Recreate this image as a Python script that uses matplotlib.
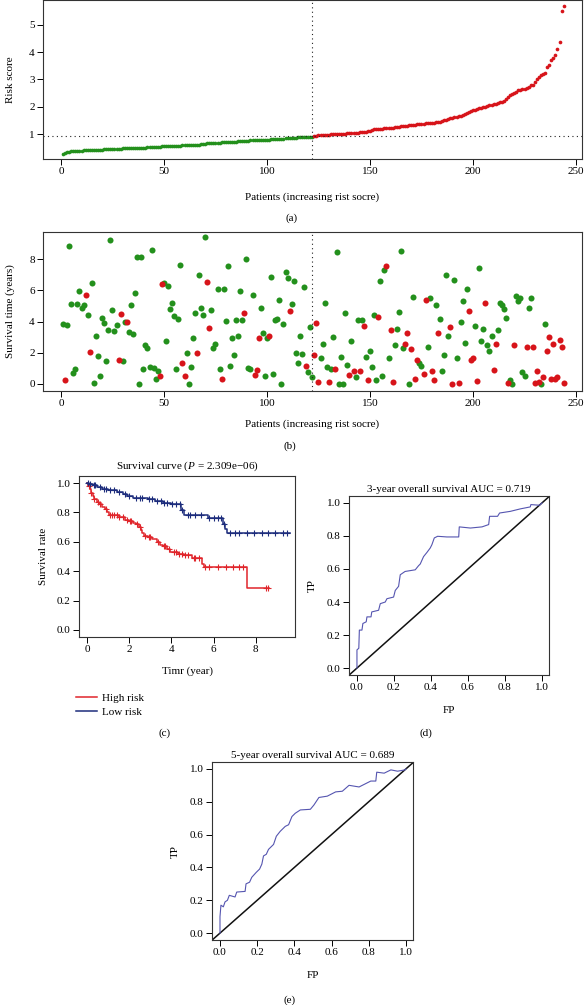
import numpy as np
import matplotlib
matplotlib.use("Agg")
import matplotlib.pyplot as plt
from matplotlib.lines import Line2D

plt.rcParams['font.family'] = ['Liberation Serif', 'DejaVu Serif']
plt.rcParams['font.size'] = 8
plt.rcParams['mathtext.fontset'] = 'custom'
plt.rcParams['mathtext.rm'] = 'Liberation Serif'
plt.rcParams['mathtext.it'] = 'Liberation Serif:italic'

# ---- data -------------------------------------------------------------
risk_score = [
    0.29, 0.31, 0.33, 0.36, 0.38, 0.39, 0.39, 0.40, 0.40, 0.40,
    0.41, 0.41, 0.41, 0.42, 0.42, 0.42, 0.42, 0.43, 0.43, 0.43,
    0.44, 0.44, 0.45, 0.45, 0.46, 0.46, 0.47, 0.47, 0.47, 0.48,
    0.48, 0.48, 0.49, 0.49, 0.49, 0.50, 0.50, 0.50, 0.51, 0.51,
    0.51, 0.52, 0.52, 0.52, 0.53, 0.53, 0.54, 0.54, 0.55, 0.55,
    0.55, 0.56, 0.56, 0.57, 0.57, 0.57, 0.58, 0.58, 0.59, 0.59,
    0.59, 0.60, 0.60, 0.61, 0.61, 0.62, 0.62, 0.63, 0.64, 0.65,
    0.66, 0.66, 0.67, 0.67, 0.68, 0.69, 0.69, 0.70, 0.70, 0.71,
    0.71, 0.72, 0.72, 0.73, 0.73, 0.74, 0.74, 0.75, 0.75, 0.76,
    0.76, 0.77, 0.77, 0.77, 0.78, 0.78, 0.79, 0.79, 0.79, 0.80,
    0.80, 0.81, 0.81, 0.82, 0.82, 0.83, 0.83, 0.84, 0.85, 0.85,
    0.86, 0.86, 0.87, 0.87, 0.88, 0.88, 0.89, 0.89, 0.90, 0.90, 0.91, 0.91,
    0.93, 0.94, 0.95, 0.96, 0.96, 0.97, 0.98, 0.98,
    0.99, 0.99, 1.00, 1.00, 1.01, 1.01, 1.02, 1.02, 1.03, 1.03,
    1.04, 1.04, 1.05, 1.05, 1.06, 1.07, 1.08, 1.09, 1.10, 1.12,
    1.15, 1.17, 1.19, 1.19, 1.20, 1.20, 1.21, 1.21, 1.22, 1.23,
    1.24, 1.25, 1.26, 1.27, 1.28, 1.29, 1.30, 1.31, 1.32, 1.33,
    1.34, 1.35, 1.36, 1.37, 1.37, 1.38, 1.39, 1.40, 1.41, 1.41,
    1.42, 1.43, 1.44, 1.46, 1.48, 1.50, 1.52, 1.55, 1.58, 1.60,
    1.62, 1.64, 1.66, 1.68, 1.70, 1.72, 1.76, 1.82, 1.86, 1.88,
    1.90, 1.92, 1.94, 1.96, 1.98, 2.00, 2.03, 2.06, 2.08, 2.10,
    2.12, 2.14, 2.16, 2.18, 2.22, 2.28, 2.36, 2.44, 2.48, 2.52,
    2.56, 2.60, 2.62, 2.64, 2.66, 2.70, 2.74, 2.78, 2.80, 2.90,
    3.00, 3.08, 3.15, 3.20, 3.25, 3.45, 3.52, 3.72, 3.80, 3.90,
    4.10, 4.37, 5.50, 5.70,
]
n_low = 122
cutoff = 0.92

surv_time = [
    3.84, 0.26, 3.77, 8.85, 5.10, 0.72, 0.94, 5.14, 5.97, 4.90,
    5.05, 5.73, 4.43, 2.05, 6.48, 0.09, 3.09, 1.79, 0.53, 4.26,
    3.88, 1.49, 3.43, 9.25, 4.75, 3.41, 3.77, 1.51, 4.46, 1.45,
    3.97, 3.97, 3.30, 5.03, 3.20, 5.80, 8.12, 0.00, 8.12, 0.96,
    2.47, 2.28, 1.07, 8.61, 1.00, 0.34, 0.85, 0.53, 6.40, 6.44,
    2.75, 6.31, 4.78, 5.16, 4.37, 0.98, 4.14, 7.65, 1.36, 0.51,
    1.96, 0.02, 1.09, 2.94, 4.54, 1.96, 6.97, 4.90, 4.43, 9.42,
    6.52, 3.58, 4.71, 2.32, 2.56, 6.10, 0.96, 0.34, 6.10, 4.05,
    7.53, 1.15, 2.96, 1.88, 4.07, 3.07, 5.97, 4.07, 4.52, 8.02,
    1.04, 0.96, 5.69, 0.55, 0.87, 2.92, 4.86, 3.24, 0.51, 2.96,
    3.05, 6.84, 0.62, 4.07, 4.14, 5.35, 0.00, 3.82, 7.16, 6.82,
    4.65, 5.12, 6.63, 2.00, 1.32, 3.07, 1.92, 6.23, 1.17, 0.77,
    3.67, 0.43,
    1.83, 3.88, 0.13, 1.66, 2.58, 5.20, 1.09, 0.13, 0.98, 3.03,
    0.98, 8.44, 0.00, 1.75, 0.00, 4.54, 1.19, 0.58, 2.73, 0.83,
    0.47, 4.09, 0.81, 4.09, 3.73, 1.75, 0.23, 2.13, 1.11, 4.43,
    0.26, 4.30, 6.61, 0.49, 7.31, 7.57, 1.64, 3.45, 0.15, 2.47,
    3.54, 4.61, 8.55, 2.30, 2.54, 3.24, 0.00, 2.22, 5.56, 0.34,
    1.54, 1.32, 1.15, 0.64, 5.39, 2.39, 5.48, 0.85, 0.23, 5.03,
    3.26, 4.14, 0.85, 1.83, 6.99, 3.07, 3.65, 0.00, 6.65, 1.66,
    0.09, 3.99, 5.33, 2.60, 6.08, 4.67, 1.54, 1.68, 3.73, 0.21,
    7.44, 2.77, 3.50, 5.22, 2.49, 2.09, 3.07, 0.90, 2.56, 3.45,
    5.16, 5.05, 4.82, 4.24, 0.09, 0.28, 0.00, 2.52, 5.67, 5.33,
    5.52, 0.77, 0.51, 2.39, 4.84, 5.50, 2.39, 0.09, 0.85, 0.13,
    0.00, 0.47, 3.82, 2.09, 3.03, 0.34, 2.56, 0.34, 0.47, 2.79,
    2.35, 0.09,
]
# patient numbers (1-based) drawn in red = dead
dead_patients = [
    2, 12, 14, 28, 29, 32, 48, 49, 59, 60, 66, 71, 72, 78, 89, 94, 95, 96,
    101, 111, 119,
    123, 124, 125, 130, 133, 140, 142, 145, 147, 149, 154, 158, 160, 161,
    167, 168, 170, 172, 173, 176, 177, 180, 181, 183, 189, 190, 193, 198,
    199, 200, 202, 206, 210, 211, 217, 220, 226, 229, 230, 231, 232, 234,
    236, 237, 238, 239, 240, 241, 242, 243, 244,
]

# Kaplan-Meier steps
km_high_t = [0, 0.05, 0.12, 0.2, 0.28, 0.35, 0.45, 0.55, 0.7, 0.85, 0.95, 1.05,
             1.5, 1.8, 2.0, 2.2, 2.3, 2.45, 2.55, 2.62, 2.7, 2.9, 3.1, 3.3, 3.45,
             3.6, 3.8, 3.95, 4.3, 4.6, 5.0, 5.45, 5.55, 7.6, 8.65]
km_high_s = [1.0, 0.98, 0.96, 0.93, 0.91, 0.89, 0.87, 0.86, 0.84, 0.82, 0.80, 0.78,
             0.77, 0.75, 0.74, 0.73, 0.72, 0.70, 0.68, 0.66, 0.64, 0.63, 0.62, 0.60, 0.58,
             0.57, 0.55, 0.53, 0.52, 0.51, 0.49, 0.45, 0.43, 0.285, 0.285]
km_high_cens = [0.1, 0.2, 0.35, 0.5, 0.6, 0.9, 1.1, 1.2, 1.3, 1.4, 1.5, 1.7, 1.9,
                2.05, 2.1, 2.35, 2.5, 2.75, 2.95, 3.0, 3.35, 3.65, 3.7, 3.9, 4.1,
                4.2, 4.35, 4.5, 4.65, 4.8, 5.05, 5.1, 5.3, 5.6, 5.8, 6.2, 6.6,
                6.9, 7.2, 7.4, 8.5, 8.6]
km_low_t = [0, 0.1, 0.3, 0.45, 0.7, 1.0, 1.4, 1.7, 1.9, 2.2, 2.9, 3.2, 3.6, 4.0,
            4.45, 4.6, 5.75, 6.45, 6.55, 6.62, 9.6]
km_low_s = [1.0, 0.995, 0.985, 0.97, 0.96, 0.95, 0.94, 0.925, 0.91, 0.90, 0.89,
            0.875, 0.865, 0.855, 0.815, 0.785, 0.76, 0.72, 0.69, 0.66, 0.66]
km_low_cens = [0.05, 0.15, 0.35, 0.4, 0.6, 0.8, 0.9, 1.1, 1.3, 1.5, 1.8, 2.0, 2.3,
               2.5, 2.6, 2.95, 3.1, 3.3, 3.5, 3.65, 3.8, 4.05, 4.2, 4.4, 4.5, 4.8,
               4.9, 5.1, 5.4, 5.8, 6.0, 6.2, 6.35, 6.5, 6.8, 7.0, 7.2, 7.6, 7.9,
               8.3, 8.6, 8.9, 9.3, 9.5]

roc3_fp = [0, 0, 0.01, 0.013, 0.027, 0.032, 0.05, 0.054, 0.076, 0.08, 0.117, 0.126,
           0.153, 0.162, 0.198, 0.207, 0.225, 0.234, 0.26, 0.315, 0.333, 0.342, 0.36,
           0.378, 0.396, 0.405, 0.418, 0.436, 0.486, 0.55, 0.553, 0.613, 0.676, 0.712,
           0.717, 0.76, 0.771, 0.829, 0.883, 0.937, 0.94, 0.987, 1.0]
roc3_tp = [0, 0.11, 0.12, 0.23, 0.23, 0.27, 0.28, 0.31, 0.31, 0.34, 0.35, 0.39,
           0.40, 0.42, 0.43, 0.47, 0.495, 0.565, 0.585, 0.595, 0.62, 0.63, 0.675,
           0.70, 0.727, 0.747, 0.788, 0.798, 0.794, 0.794, 0.855, 0.848, 0.855, 0.869,
           0.919, 0.919, 0.939, 0.949, 0.964, 0.976, 0.99, 0.986, 1.0]
roc5_fp = [0, 0, 0.005, 0.018, 0.027, 0.04, 0.05, 0.081, 0.09, 0.135, 0.14, 0.159,
           0.171, 0.195, 0.213, 0.225, 0.234, 0.249, 0.261, 0.288, 0.303, 0.324, 0.351,
           0.369, 0.387, 0.405, 0.432, 0.486, 0.505, 0.532, 0.577, 0.622, 0.658, 0.694,
           0.748, 0.811, 0.838, 0.843, 0.883, 0.919, 0.955, 0.995, 1.0]
roc5_tp = [0, 0.10, 0.17, 0.16, 0.19, 0.20, 0.23, 0.22, 0.25, 0.254, 0.30, 0.31,
           0.34, 0.37, 0.39, 0.42, 0.47, 0.48, 0.51, 0.54, 0.59, 0.62, 0.65,
           0.66, 0.71, 0.73, 0.75, 0.754, 0.78, 0.826, 0.834, 0.86, 0.864, 0.90,
           0.89, 0.926, 0.926, 0.98, 0.974, 0.994, 0.986, 0.994, 1.0]

GREEN = '#23901c'
RED = '#d7141a'
KM_RED = '#e0252b'
KM_BLUE = '#1c2c7c'
ROC_BLUE = '#5555b0'
FS = 8

W, H = 584, 1005
fig = plt.figure(figsize=(W / 100, H / 100), dpi=100)


def px_axes(x0, y0, x1, y1):
    return fig.add_axes([x0 / W, 1 - y1 / H, (x1 - x0) / W, (y1 - y0) / H])


def r_style(ax):
    for s in ax.spines.values():
        s.set_linewidth(0.8)
        s.set_color('#333333')
    ax.tick_params(direction='out', length=4, width=0.7, pad=2, labelsize=FS)


def ftext(x, y, s, **kw):
    fig.text(x / W, 1 - y / H, s, ha='center', va='center', fontsize=FS, **kw)


idx = np.arange(1, len(risk_score) + 1)
rs = np.array(risk_score)
stime = np.array(surv_time)
dead = np.isin(idx, dead_patients)

# (a) risk score
ax = px_axes(43, 0.5, 582, 159)
ax.scatter(idx[:n_low], rs[:n_low], s=7, color=GREEN, lw=0)
ax.scatter(idx[n_low:], rs[n_low:], s=7, color=RED, lw=0)
ax.axhline(cutoff, color='#222222', lw=0.8, ls=(0, (1, 3)))
ax.axvline(n_low, color='#222222', lw=0.8, ls=(0, (1, 3)))
ax.set_xlim(-8.7, 252.9)
ax.set_ylim(0.09, 5.89)
ax.set_xticks([0, 50, 100, 150, 200, 250])
ax.set_yticks([1, 2, 3, 4, 5])
ax.set_ylabel('Risk score', fontsize=FS, labelpad=10)
r_style(ax)
ftext(312, 197, 'Patients (increasing rist socre)')
ftext(292, 218, '(a)')

# (b) survival time
ax = px_axes(43, 232, 582, 391)
ax.scatter(idx[~dead], stime[~dead], s=19, color=GREEN, lw=0)
ax.scatter(idx[dead], stime[dead], s=19, color=RED, lw=0)
ax.axvline(n_low, color='#222222', lw=0.8, ls=(0, (1, 3)))
ax.set_xlim(-8.7, 252.9)
ax.set_ylim(-0.45, 9.74)
ax.set_xticks([0, 50, 100, 150, 200, 250])
ax.set_yticks([0, 2, 4, 6, 8])
ax.set_ylabel('Survival time (years)', fontsize=FS, labelpad=10)
r_style(ax)
ftext(312, 424, 'Patients (increasing rist socre)')
ftext(290, 446, '(b)')


def surv_at(times, surv, t):
    i = np.searchsorted(times, t, side='right') - 1
    return np.array(surv)[i]


# (c) Kaplan-Meier
ax = px_axes(79, 476, 295, 637)
ax.step(km_high_t, km_high_s, where='post', color=KM_RED, lw=1.1)
ax.step(km_low_t, km_low_s, where='post', color=KM_BLUE, lw=1.1)
ax.plot(km_high_cens, surv_at(km_high_t, km_high_s, km_high_cens), '+',
        color=KM_RED, ms=5, mew=0.8)
ax.plot(km_low_cens, surv_at(km_low_t, km_low_s, km_low_cens), '+',
        color=KM_BLUE, ms=5, mew=0.8)
ax.set_xlim(-0.38, 9.86)
ax.set_ylim(-0.048, 1.048)
ax.set_xticks([0, 2, 4, 6, 8])
ax.set_yticks([0, 0.2, 0.4, 0.6, 0.8, 1.0])
ax.set_yticklabels(['0.0', '0.2', '0.4', '0.6', '0.8', '1.0'])
ax.set_title(r'Survival curve ($\mathit{P}$ = 2.309e−06)', fontsize=FS, pad=5)
ax.set_ylabel('Survival rate', fontsize=FS, labelpad=6)
ax.set_xlabel('Timr (year)', fontsize=FS, labelpad=9)
r_style(ax)
handles = [Line2D([], [], color=KM_RED, lw=1.1), Line2D([], [], color=KM_BLUE, lw=1.1)]
fig.legend(handles, ['High risk', 'Low risk'], loc='upper left',
           bbox_to_anchor=(70 / W, 1 - 688 / H), frameon=False, fontsize=FS,
           handlelength=1.9, handletextpad=0.5, labelspacing=0.35, borderpad=0)
ftext(165, 733, '(c)')


def roc_panel(box, fp, tp, title):
    ax = px_axes(*box)
    ax.plot([-0.1, 1.1], [-0.1, 1.1], color='#111111', lw=1.1)
    ax.plot(fp, tp, color=ROC_BLUE, lw=0.8)
    ax.set_xlim(-0.043, 1.038)
    ax.set_ylim(-0.042, 1.042)
    ticks = [0, 0.2, 0.4, 0.6, 0.8, 1.0]
    labels = ['0.0', '0.2', '0.4', '0.6', '0.8', '1.0']
    ax.set_xticks(ticks)
    ax.set_xticklabels(labels)
    ax.set_yticks(ticks)
    ax.set_yticklabels(labels)
    ax.set_title(title, fontsize=FS, pad=3)
    ax.set_xlabel('FP', fontsize=FS, labelpad=10)
    ax.set_ylabel('TP', fontsize=FS, labelpad=7)
    r_style(ax)
    return ax


roc_panel((349, 496, 549, 675), roc3_fp, roc3_tp, '3-year overall survival AUC = 0.719')
ftext(426, 733, '(d)')
roc_panel((212, 762, 413, 940), roc5_fp, roc5_tp, '5-year overall survival AUC = 0.689')
ftext(290, 1000, '(e)')

fig.savefig('out.png', dpi=100)
